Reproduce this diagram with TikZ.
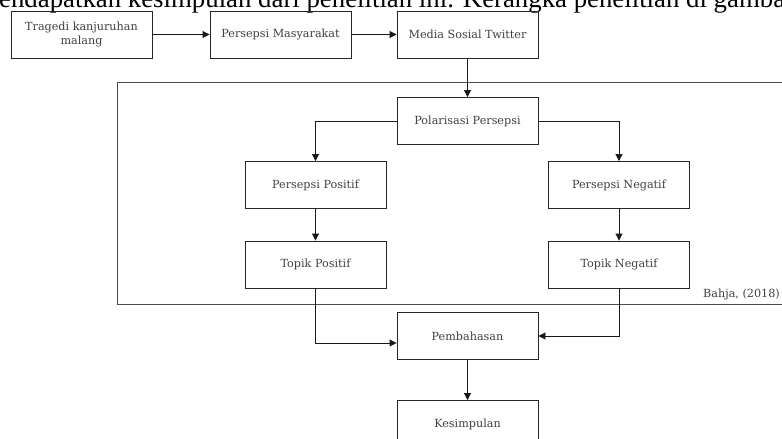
\documentclass[tikz,border=0pt]{standalone}
\usepackage{fontspec}
\setmainfont{Liberation Serif}
\newfontfamily\boxfont{DejaVu Serif}
\usetikzlibrary{arrows.meta}
\tikzset{
  box/.style={draw=black!85, line width=0.9pt, minimum width=141pt, minimum height=47pt,
    inner sep=0pt, align=center, text=black!75, font=\boxfont\fontsize{11.2}{13.5}\selectfont},
  conn/.style={draw=black!90, line width=0.9pt, -{Triangle[length=7pt,width=7pt]}},
  frame/.style={draw=black!70, line width=0.9pt}
}
\begin{document}
\begin{tikzpicture}[x=1pt,y=-1pt]
\useasboundingbox (0,0) rectangle (782,439);
\clip (0,0) rectangle (782,439);
\fill[white] (0,0) rectangle (782,439);
% header text
\node[anchor=base west, inner sep=0pt, font=\fontsize{26.8}{30}\selectfont] (hdr) at (-1,7.5)
  {endapatkan kesimpulan dari penelitian ini. Kerangka penelitian di gambar};
% frame
\draw[frame] (117,82) -- (800,82) (117,82) -- (117,304) -- (800,304);
\node[anchor=base east, inner sep=0pt, text=black!75, font=\boxfont\fontsize{11.2}{13.5}\selectfont] (src) at (780,297) {Bahja, (2018)};
% boxes
\node[box] (trag) at (81.5,34.5) {Tragedi kanjuruhan\\malang};
\node[box] (masy) at (280.5,34.5) {Persepsi Masyarakat};
\node[box] (twit) at (467.5,34.5) {Media Sosial Twitter};
\node[box] (pol) at (467.5,121) {Polarisasi Persepsi};
\node[box] (ppos) at (315.5,185) {Persepsi Positif};
\node[box] (pneg) at (619,185) {Persepsi Negatif};
\node[box] (tpos) at (315.5,264.5) {Topik Positif};
\node[box] (tneg) at (619,264.5) {Topik Negatif};
\node[box] (pemb) at (467.5,336) {Pembahasan};
\node[box] (kes) at (467.5,424) {Kesimpulan};
% connectors
\draw[conn] (trag) -- (masy);
\draw[conn] (masy) -- (twit);
\draw[conn] (twit) -- (pol);
\draw[conn] (pol.west) -| (ppos.north);
\draw[conn] (pol.east) -| (pneg.north);
\draw[conn] (ppos) -- (tpos);
\draw[conn] (pneg) -- (tneg);
\draw[conn] (tpos.south) |- ([yshift=-7pt]pemb.west);
\draw[conn] (tneg.south) |- (pemb.east);
\draw[conn] (pemb) -- (kes);
\end{tikzpicture}
\end{document}
